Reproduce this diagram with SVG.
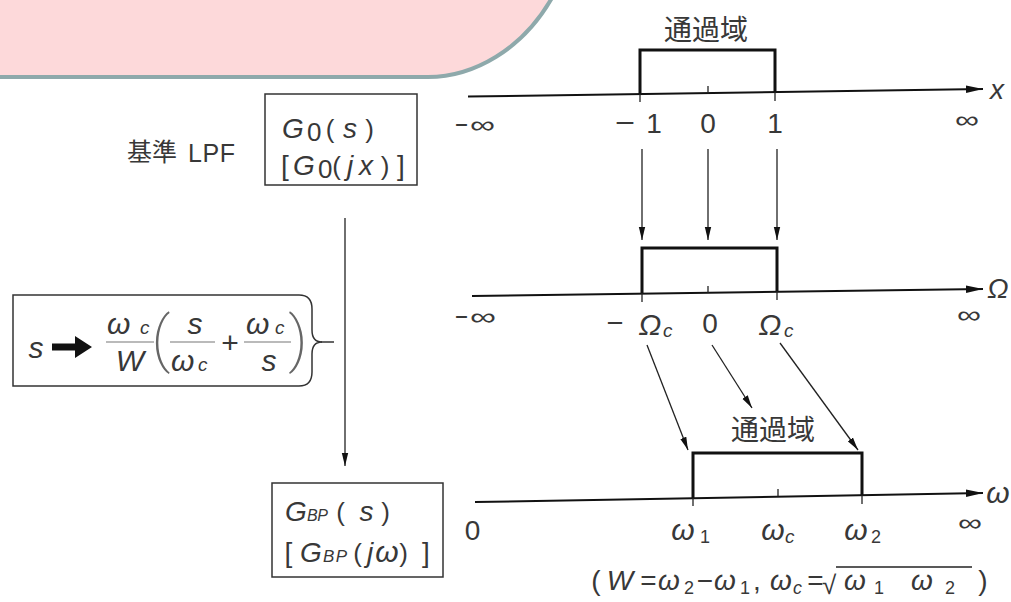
<svg xmlns="http://www.w3.org/2000/svg" width="1011" height="602" viewBox="0 0 1011 602">
<defs>
<style>
.t{font-family:"Liberation Sans","Noto Sans",sans-serif;fill:#383838;font-size:28px}
.m{text-anchor:middle}
.i{font-style:italic}
.inf{font-family:"DejaVu Sans","Liberation Sans",sans-serif;font-weight:200;fill:#383838;font-size:24px}
.j{font-family:"Noto Sans CJK JP","Noto Sans CJK SC",sans-serif;fill:#383838;font-size:28px;text-anchor:middle}
.big{font-family:Roboto,"Liberation Sans",sans-serif;font-weight:200;font-size:62px;fill:#666;text-anchor:middle}
.ax{stroke:#111;stroke-width:2;fill:none}
.band{stroke:#111;stroke-width:3;fill:none}
.tk{stroke:#222;stroke-width:1.3}
.con{stroke:#222;stroke-width:1.3;fill:none}
.box{stroke:#333;stroke-width:1.5;fill:none}
.bar{stroke:#777;stroke-width:1.2}
</style>
<marker id="ah" markerUnits="userSpaceOnUse" markerWidth="14" markerHeight="8" refX="13" refY="4" orient="auto"><path d="M0,0.8 L13,4 L0,7.2 Z" fill="#111"/></marker>
<marker id="axh" markerUnits="userSpaceOnUse" markerWidth="18" markerHeight="10" refX="17" refY="5" orient="auto"><path d="M0,1.2 L17,5 L0,8.8 Z" fill="#111"/></marker>
</defs>
<rect x="0" y="0" width="1011" height="602" fill="#fff"/>
<path d="M-10,-10 L565,-10 L553,-4 C523,50 473,77 428,77 L-10,77 Z" fill="#fdd9da" stroke="#8ea9ab" stroke-width="4"/>

<g id="axis-x">
<line class="ax" x1="468" y1="96.5" x2="983" y2="89" marker-end="url(#axh)"/>
<path class="band" d="M640,94.5 V50 H775 V92.5"/>
<line class="tk" x1="708" y1="86" x2="708" y2="93.5"/>
<line class="tk" x1="640" y1="94" x2="640" y2="102"/>
<line class="tk" x1="775" y1="92" x2="775" y2="101"/>
<text class="j" x="706" y="40">通過域</text>
<text class="t i m" x="997" y="99">x</text>
<text class="t m" x="461.5" y="134" textLength="13" lengthAdjust="spacingAndGlyphs">−</text>
<text class="inf" x="470" y="133" textLength="25" lengthAdjust="spacingAndGlyphs">∞</text>
<text class="t m" x="625" y="132" textLength="20" lengthAdjust="spacingAndGlyphs">−</text>
<text class="t m" x="654" y="133">1</text>
<text class="t m" x="708" y="133">0</text>
<text class="t m" x="775" y="133">1</text>
<text class="inf" x="955" y="128" textLength="24" lengthAdjust="spacingAndGlyphs">∞</text>
</g>

<g id="axis-omega-cap">
<line class="ax" x1="472" y1="296" x2="983" y2="289" marker-end="url(#axh)"/>
<path class="band" d="M642,293.6 V248 H777 V291.8"/>
<line class="tk" x1="708" y1="286" x2="708" y2="293"/>
<line class="tk" x1="642" y1="293" x2="642" y2="302"/>
<line class="tk" x1="777" y1="291" x2="777" y2="300"/>
<text class="t i m" x="998" y="298">Ω</text>
<text class="t m" x="461.5" y="326" textLength="13" lengthAdjust="spacingAndGlyphs">−</text>
<text class="inf" x="470" y="325" textLength="26" lengthAdjust="spacingAndGlyphs">∞</text>
<text class="t m" x="615" y="332" textLength="17" lengthAdjust="spacingAndGlyphs">−</text>
<text class="t i m" x="650" y="335" style="font-size:30px">Ω</text>
<text class="t i" x="663" y="337" style="font-size:19px">c</text>
<text class="t m" x="710" y="333">0</text>
<text class="t i m" x="770" y="335" style="font-size:30px">Ω</text>
<text class="t i" x="784" y="337" style="font-size:19px">c</text>
<text class="inf" x="957" y="323" textLength="24" lengthAdjust="spacingAndGlyphs">∞</text>
</g>

<g id="axis-omega">
<line class="ax" x1="475" y1="502" x2="983" y2="493" marker-end="url(#axh)"/>
<path class="band" d="M693,498 V453 H862 V495"/>
<line class="tk" x1="778" y1="489" x2="778" y2="496.5"/>
<line class="tk" x1="693" y1="498" x2="693" y2="506"/>
<line class="tk" x1="862" y1="495" x2="862" y2="504"/>
<text class="j" x="773" y="440">通過域</text>
<text class="t i m" x="998" y="503" style="font-size:30px">ω</text>
<text class="t m" x="472.5" y="540">0</text>
<text class="t i m" x="683" y="540" style="font-size:30px">ω</text>
<text class="t m" x="705" y="543" style="font-size:18px">1</text>
<text class="t i m" x="773" y="540" style="font-size:30px">ω</text>
<text class="t i" x="785" y="543" style="font-size:19px">c</text>
<text class="t i m" x="856" y="540" style="font-size:30px">ω</text>
<text class="t m" x="876" y="543" style="font-size:18px">2</text>
<text class="inf" x="958" y="531" textLength="24" lengthAdjust="spacingAndGlyphs">∞</text>
</g>

<g id="lpf">
<text class="j" x="152" y="161" style="font-size:25px">基準</text>
<text class="t" x="188" y="162" style="font-size:25px" textLength="47">LPF</text>
<rect class="box" x="265" y="94" width="152" height="91"/>
<text class="t i" x="282" y="138">G</text>
<text class="t" x="307" y="141" style="font-size:26px">0</text>
<text class="t m" x="330" y="138" style="font-size:26px">(</text>
<text class="t i m" x="350" y="138">s</text>
<text class="t m" x="369.5" y="138" style="font-size:26px">)</text>
<text class="t m" x="285" y="175">[</text>
<text class="t i" x="293" y="175">G</text>
<text class="t" x="318" y="178" style="font-size:26px">0</text>
<text class="t m" x="336.5" y="175" style="font-size:26px">(</text>
<text class="t i" x="347" y="175" textLength="26">jx</text>
<text class="t m" x="385" y="175" style="font-size:26px">)</text>
<text class="t m" x="401" y="175">]</text>
</g>

<g id="transform">
<path class="box" d="M13,295 H299 Q312,295 312,309 V330 Q312,342 322,342 Q312,342 312,354 V372 Q312,386 299,386 H13 Z"/>
<line class="box" x1="321" y1="342" x2="334" y2="342"/>
<text class="t i m" x="36" y="358" style="font-size:30px">s</text>
<polygon points="52,343.5 75,343.5 75,336 92,347 75,358 75,350.5 52,350.5" fill="#111"/>
<text class="t i" x="107" y="334" style="font-size:30px">ω</text>
<text class="t i" x="140" y="334" style="font-size:19px">c</text>
<line class="bar" x1="106" y1="342" x2="154" y2="342"/>
<text class="t i m" x="130" y="371" style="font-size:30px">W</text>
<text class="big" x="161" y="360">(</text>
<text class="t i m" x="195" y="334" style="font-size:30px">s</text>
<line class="bar" x1="170" y1="342" x2="215" y2="342"/>
<text class="t i" x="171" y="371" style="font-size:30px">ω</text>
<text class="t i" x="198" y="371" style="font-size:19px">c</text>
<text class="t m" x="230" y="353" style="font-size:30px">+</text>
<text class="t i" x="246" y="334" style="font-size:30px">ω</text>
<text class="t i" x="275" y="334" style="font-size:19px">c</text>
<line class="bar" x1="244" y1="342" x2="291" y2="342"/>
<text class="t i m" x="269" y="371" style="font-size:30px">s</text>
<text class="big" x="298" y="360">)</text>
</g>

<g id="bpf">
<rect class="box" x="272" y="483" width="171" height="94"/>
<text class="t i" x="285" y="521">G</text>
<text class="t i" x="307" y="521" style="font-size:16px" textLength="21">BP</text>
<text class="t m" x="340.5" y="521" style="font-size:26px">(</text>
<text class="t i m" x="366.5" y="521">s</text>
<text class="t m" x="385.5" y="521" style="font-size:26px">)</text>
<text class="t m" x="288.5" y="562">[</text>
<text class="t i" x="300" y="562">G</text>
<text class="t i" x="323" y="562" style="font-size:17px" textLength="24">BP</text>
<text class="t m" x="357.5" y="562" style="font-size:26px">(</text>
<text class="t i m" x="370" y="562">j</text>
<text class="t i m" x="387" y="562" style="font-size:30px">ω</text>
<text class="t m" x="403.5" y="562" style="font-size:26px">)</text>
<text class="t m" x="426" y="562">]</text>
</g>

<g id="note">
<text class="t m" x="596" y="590">(</text>
<text class="t i m" x="620" y="590">W</text>
<text class="t m" x="648.5" y="590">=</text>
<text class="t i m" x="669" y="590">ω</text>
<text class="t m" x="689" y="594" style="font-size:18px">2</text>
<text class="t m" x="705" y="590">−</text>
<text class="t i m" x="725" y="590">ω</text>
<text class="t m" x="745" y="594" style="font-size:18px">1</text>
<text class="t m" x="757" y="590">,</text>
<text class="t i m" x="781" y="590">ω</text>
<text class="t i" x="793" y="594" style="font-size:18px">c</text>
<text class="t m" x="815.5" y="590">=</text>
<text class="t" x="822" y="594" style="font-size:26px">√</text>
<line class="tk" x1="836" y1="567" x2="972" y2="567"/>
<text class="t i m" x="855" y="590">ω</text>
<text class="t m" x="879" y="594" style="font-size:18px">1</text>
<text class="t i m" x="922" y="590">ω</text>
<text class="t m" x="950" y="594" style="font-size:18px">2</text>
<text class="t m" x="983" y="590">)</text>
</g>

<g id="connectors">
<line class="con" x1="345" y1="218" x2="345" y2="466" marker-end="url(#ah)"/>
<line class="con" x1="642" y1="149" x2="642" y2="240" marker-end="url(#ah)"/>
<line class="con" x1="708" y1="149" x2="708" y2="240" marker-end="url(#ah)"/>
<line class="con" x1="777" y1="149" x2="777" y2="240" marker-end="url(#ah)"/>
<line class="con" x1="647" y1="345" x2="688" y2="450" marker-end="url(#ah)"/>
<line class="con" x1="712" y1="345" x2="752" y2="408" marker-end="url(#ah)"/>
<line class="con" x1="780" y1="343" x2="858" y2="450" marker-end="url(#ah)"/>
</g>
</svg>
